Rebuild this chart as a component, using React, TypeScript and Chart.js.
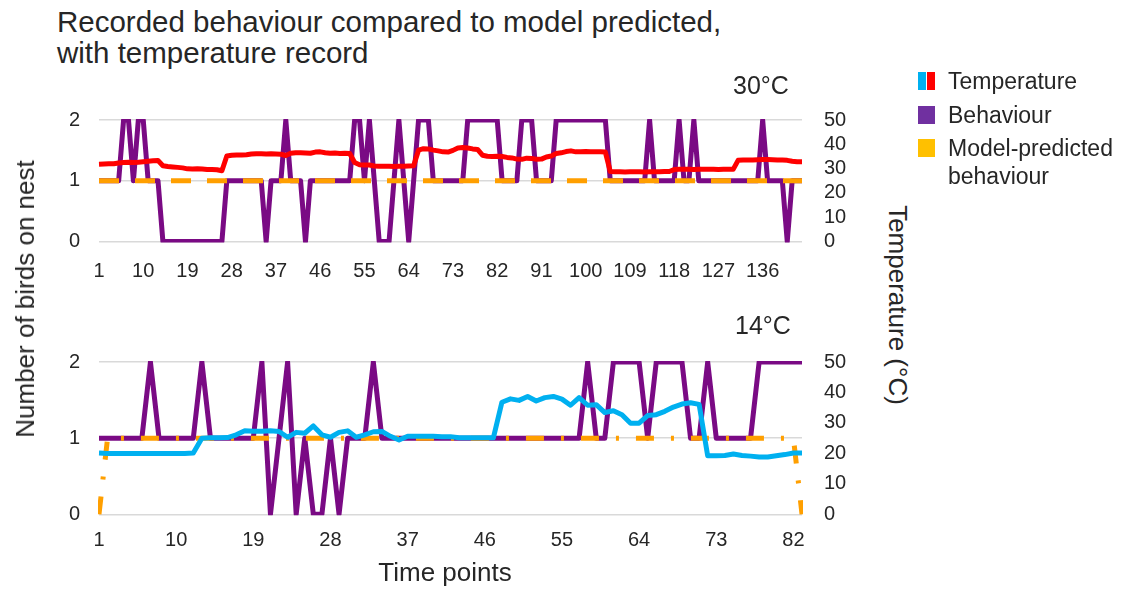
import { useEffect, useRef } from 'react';
import { Chart, registerables } from 'chart.js';

Chart.register(...registerables);

const FONT = "'Liberation Sans', Arial, sans-serif";
const TEXT = '#262626';
const PURPLE = '#7a0a84';
const ORANGE = '#ff9f00';
const RED = '#ff0000';
const BLUE = '#00b0f0';
const GRID = '#d9d9d9';

// ---- 30°C trial: 144 time points ----
const warmTimePoints = Array.from({ length: 144 }, (_, i) => String(i + 1));

const warmBehaviour = [
  1, 1, 1, 1, 1, 2, 2, 1, 2, 2,
  1, 1, 1, 0, 0, 0, 0, 0, 0, 0,
  0, 0, 0, 0, 0, 0, 1, 1, 1, 1,
  1, 1, 1, 1, 0, 1, 1, 1, 2, 1,
  1, 1, 0, 1, 1, 1, 1, 1, 1, 1,
  1, 1, 2, 2, 1, 2, 1, 0, 0, 0,
  1, 2, 1, 0, 1, 2, 2, 2, 1, 1,
  1, 1, 1, 1, 1, 2, 2, 2, 2, 2,
  2, 2, 1, 1, 1, 1, 2, 2, 2, 1,
  1, 1, 1, 2, 2, 2, 2, 2, 2, 2,
  2, 2, 2, 2, 1, 1, 1, 1, 1, 1,
  1, 1, 2, 1, 1, 1, 1, 1, 2, 1,
  1, 2, 1, 1, 1, 1, 1, 1, 1, 1,
  1, 1, 1, 1, 1, 2, 1, 1, 1, 1,
  0, 1, 1, 1,
];

const warmModel = [
  1, 1, 1, 1, 1, 1, 1, 1, 1, 1,
  1, 1, 1, 1, 1, 1, 1, 1, 1, 1,
  1, 1, 1, 1, 1, 1, 1, 1, 1, 1,
  1, 1, 1, 1, 1, 1, 1, 1, 1, 1,
  1, 1, 1, 1, 1, 1, 1, 1, 1, 1,
  1, 1, 1, 1, 1, 1, 1, 1, 1, 1,
  1, 1, 1, 1, 1, 1, 1, 1, 1, 1,
  1, 1, 1, 1, 1, 1, 1, 1, 1, 1,
  1, 1, 1, 1, 1, 1, 1, 1, 1, 1,
  1, 1, 1, 1, 1, 1, 1, 1, 1, 1,
  1, 1, 1, 1, 1, 1, 1, 1, 1, 1,
  1, 1, 1, 1, 1, 1, 1, 1, 1, 1,
  1, 1, 1, 1, 1, 1, 1, 1, 1, 1,
  1, 1, 1, 1, 1, 1, 1, 1, 1, 1,
  1, 1, 1, 1,
];

const warmTemperature = [
  31.8, 31.9, 32, 32, 32.3, 32.5, 32.6, 32.5, 32.6, 32.8,
  33, 33.2, 33.3, 31.2, 30.9, 30.7, 30.5, 30.3, 29.9, 29.8,
  29.9, 29.8, 29.6, 29.6, 29.5, 29.1, 35.2, 35.5, 35.6, 35.6,
  35.7, 36, 36.1, 36.1, 36, 36.1, 36, 35.9, 35.4, 36.3,
  36.5, 36.5, 36.4, 36.3, 36.8, 36.9, 36.5, 36.3, 36.4, 36.2,
  36.3, 36.2, 32.5, 31.6, 31.5, 31.5, 31.1, 31, 31, 31,
  30.9, 31, 31, 31.1, 31.2, 37.6, 38.2, 38.1, 37.6, 37.3,
  36.9, 36.8, 37.5, 38.5, 38.7, 38.5, 38.1, 37.9, 35.5, 35.1,
  35, 35.1, 35, 34.6, 34.4, 33.9, 33.8, 34.3, 34.2, 33.8,
  33.9, 34.8, 35.2, 36.2, 36.5, 37, 37.3, 36.9, 36.9, 37,
  36.9, 36.9, 36.9, 36.8, 28.8, 28.7, 28.7, 28.6, 28.7, 28.7,
  28.7, 28.6, 28.7, 28.7, 28.7, 28.8, 28.8, 29.6, 29.7, 29.7,
  29.7, 29.6, 29.7, 29.7, 29.7, 29.7, 29.6, 29.7, 29.7, 29.7,
  33.4, 33.5, 33.5, 33.5, 33.6, 33.7, 33.7, 33.6, 33.5, 33.5,
  33.4, 33, 32.8, 32.8,
];

// ---- 14°C trial: 83 time points ----
const coolTimePoints = Array.from({ length: 83 }, (_, i) => String(i + 1));

const coolBehaviour = [
  1, 1, 1, 1, 1, 1, 2, 1, 1, 1,
  1, 1, 2, 1, 1, 1, 1, 1, 1, 2,
  0, 1, 2, 0, 1, 0, 0, 1, 0, 1,
  1, 1, 2, 1, 1, 1, 1, 1, 1, 1,
  1, 1, 1, 1, 1, 1, 1, 1, 1, 1,
  1, 1, 1, 1, 1, 1, 1, 2, 1, 1,
  2, 2, 2, 2, 1, 2, 2, 2, 2, 1,
  1, 2, 1, 1, 1, 1, 1, 2, 2, 2,
  2, 2, 2,
];

const coolModel = [
  0, 1, 1, 1, 1, 1, 1, 1, 1, 1,
  1, 1, 1, 1, 1, 1, 1, 1, 1, 1,
  1, 1, 1, 1, 1, 1, 1, 1, 1, 1,
  1, 1, 1, 1, 1, 1, 1, 1, 1, 1,
  1, 1, 1, 1, 1, 1, 1, 1, 1, 1,
  1, 1, 1, 1, 1, 1, 1, 1, 1, 1,
  1, 1, 1, 1, 1, 1, 1, 1, 1, 1,
  1, 1, 1, 1, 1, 1, 1, 1, 1, 1,
  1, 1, 0,
];

const coolTemperature = [
  20.1, 20, 20, 20, 20, 20, 20, 20, 20, 20,
  20, 20.1, 25, 25.1, 25.1, 25.2, 26.1, 27.4, 27.3, 27.3,
  27.4, 27.2, 25.3, 26.9, 26.6, 29, 26.1, 25.3, 26.9, 27.4,
  25.3, 26.1, 27.1, 27.2, 25.6, 24.4, 25.6, 25.6, 25.6, 25.6,
  25.5, 25.5, 25.1, 25.1, 25.1, 25.1, 25.1, 36.8, 37.9, 37.4,
  38.7, 37.2, 38.3, 38.7, 37.8, 35.8, 38.3, 35.8, 36, 33.4,
  34, 32.7, 29.9, 29.9, 32.4, 32.7, 33.8, 35.2, 36.2, 36.6,
  36.1, 19.2, 19.2, 19.3, 19.8, 19.3, 19.1, 18.8, 18.8, 19.2,
  19.6, 20.1, 20.1,
];

const behaviourTicks = [0, 1, 2];
const temperatureTicks = [0, 10, 20, 30, 40, 50];
const TICK_EVERY = 9;

type PanelSpec = {
  labels: string[];
  behaviour: number[];
  model: number[];
  temperature: number[];
  tempColor: string;
  modelDash: number[];
  padTop: number;
  xHeight: number;
  xPad: number;
};

const tickFont = { family: FONT, size: 20, lineHeight: 1.2 };

function buildConfig(p: PanelSpec): any {
  return {
    type: 'line',
    data: {
      labels: p.labels,
      datasets: [
        {
          label: 'Temperature',
          data: p.temperature,
          yAxisID: 'yT',
          borderColor: p.tempColor,
          backgroundColor: p.tempColor,
          borderWidth: 5,
          pointRadius: 0,
          borderJoinStyle: 'round',
          clip: 1,
        },
        {
          label: 'Model-predicted behaviour',
          data: p.model,
          yAxisID: 'y',
          borderColor: ORANGE,
          backgroundColor: ORANGE,
          borderWidth: 5,
          borderDash: p.modelDash,
          borderCapStyle: 'butt',
          pointRadius: 0,
          clip: 1,
        },
        {
          label: 'Behaviour',
          data: p.behaviour,
          yAxisID: 'y',
          borderColor: PURPLE,
          backgroundColor: PURPLE,
          borderWidth: 5,
          borderJoinStyle: 'round',
          pointRadius: 0,
          clip: 1,
        },
      ],
    },
    options: {
      responsive: false,
      animation: false,
      devicePixelRatio: 1,
      layout: { padding: { top: p.padTop, left: 0, right: 0, bottom: 0 } },
      plugins: {
        legend: { display: false },
        tooltip: { enabled: false },
        title: { display: false },
      },
      scales: {
        x: {
          type: 'category',
          offset: false,
          grid: { display: false, drawTicks: false },
          border: { display: false },
          ticks: {
            autoSkip: false,
            maxRotation: 0,
            minRotation: 0,
            padding: p.xPad,
            font: tickFont,
            color: TEXT,
            callback: (_v: any, i: number) => (i % TICK_EVERY === 0 ? p.labels[i] : ''),
          },
          afterFit: (s: any) => {
            s.height = p.xHeight;
          },
        },
        y: {
          position: 'left',
          min: behaviourTicks[0],
          max: behaviourTicks[behaviourTicks.length - 1],
          afterBuildTicks: (s: any) => {
            s.ticks = behaviourTicks.map((v) => ({ value: v }));
          },
          ticks: { autoSkip: false, padding: 0, font: tickFont, color: TEXT },
          grid: {
            color: GRID,
            lineWidth: 1.5,
            drawTicks: true,
            tickLength: 19,
            tickColor: 'rgba(0,0,0,0)',
          },
          border: { display: false },
          afterFit: (s: any) => {
            s.width = 99;
          },
        },
        yT: {
          position: 'right',
          min: temperatureTicks[0],
          max: temperatureTicks[temperatureTicks.length - 1],
          afterBuildTicks: (s: any) => {
            s.ticks = temperatureTicks.map((v) => ({ value: v }));
          },
          ticks: { autoSkip: false, padding: 0, font: tickFont, color: TEXT },
          grid: {
            drawOnChartArea: false,
            drawTicks: true,
            tickLength: 22,
            tickColor: 'rgba(0,0,0,0)',
          },
          border: { display: false },
          afterFit: (s: any) => {
            s.width = 78;
          },
        },
      },
    },
  };
}

function Panel({ spec, top, height }: { spec: PanelSpec; top: number; height: number }) {
  const ref = useRef<HTMLCanvasElement | null>(null);
  useEffect(() => {
    if (!ref.current) return;
    const chart = new Chart(ref.current, buildConfig(spec));
    return () => chart.destroy();
  }, [spec]);
  return (
    <canvas
      ref={ref}
      width={880}
      height={height}
      style={{ position: 'absolute', left: 0, top, width: 880, height }}
    />
  );
}

const warmSpec: PanelSpec = {
  labels: warmTimePoints,
  behaviour: warmBehaviour,
  model: warmModel,
  temperature: warmTemperature,
  tempColor: RED,
  modelDash: [20, 16],
  padTop: 25,
  xHeight: 53.5,
  xPad: 17.5,
};

const coolSpec: PanelSpec = {
  labels: coolTimePoints,
  behaviour: coolBehaviour,
  model: coolModel,
  temperature: coolTemperature,
  tempColor: BLUE,
  modelDash: [18, 17, 3, 17],
  padTop: 32,
  xHeight: 75.7,
  xPad: 14.2,
};

const text = (extra: React.CSSProperties): React.CSSProperties => ({
  position: 'absolute',
  fontFamily: FONT,
  color: TEXT,
  whiteSpace: 'nowrap',
  ...extra,
});

const swatch = (left: number, top: number, color: string, width = 17): React.CSSProperties => ({
  position: 'absolute',
  left,
  top,
  width,
  height: 18,
  background: color,
});

export default function App() {
  return (
    <div style={{ position: 'absolute', left: 0, top: 0, width: 1134, height: 590, background: '#fff', overflow: 'hidden' }}>
      <div style={text({ left: 57, top: 6, fontSize: 29.5, lineHeight: '31px' })}>
        Recorded behaviour compared to model predicted,
        <br />
        with temperature record
      </div>

      <Panel spec={warmSpec} top={95} height={200} />
      <Panel spec={coolSpec} top={330} height={260} />

      <div style={text({ left: 733, top: 70, fontSize: 25, lineHeight: '30px' })}>30°C</div>
      <div style={text({ left: 735, top: 310, fontSize: 25, lineHeight: '30px' })}>14°C</div>

      <div
        style={text({
          left: 25,
          top: 299,
          fontSize: 26,
          lineHeight: '30px',
          transform: 'translate(-50%, -50%) rotate(-90deg)',
        })}
      >
        Number of birds on nest
      </div>
      <div
        style={text({
          left: 898,
          top: 305,
          fontSize: 26,
          lineHeight: '30px',
          transform: 'translate(-50%, -50%) rotate(90deg)',
        })}
      >
        Temperature (°C)
      </div>
      <div
        style={text({
          left: 445,
          top: 572,
          fontSize: 26,
          lineHeight: '30px',
          transform: 'translate(-50%, -50%)',
        })}
      >
        Time points
      </div>

      {/* legend */}
      <div style={swatch(918, 72, BLUE, 8)} />
      <div style={swatch(927, 72, RED, 8)} />
      <div style={text({ left: 948, top: 67, fontSize: 23, lineHeight: '28px' })}>Temperature</div>
      <div style={swatch(918, 106, '#7030a0')} />
      <div style={text({ left: 948, top: 101, fontSize: 23, lineHeight: '28px' })}>Behaviour</div>
      <div style={swatch(918, 139, '#ffc000')} />
      <div style={text({ left: 948, top: 134, fontSize: 23, lineHeight: '28px' })}>
        Model-predicted
        <br />
        behaviour
      </div>
    </div>
  );
}
